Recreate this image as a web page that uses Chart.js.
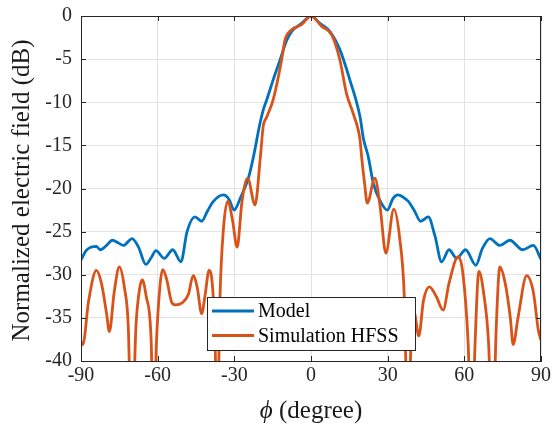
<!DOCTYPE html>
<html>
<head>
<meta charset="utf-8">
<script src="https://cdn.jsdelivr.net/npm/chart.js@4.4.1/dist/chart.umd.min.js"></script>
<style>
  html, body { margin: 0; padding: 0; background: #ffffff; }
  canvas { display: block; }
</style>
</head>
<body>
<canvas id="pattern-chart" width="552" height="425"></canvas>
<script>
// values (phi in degrees, field in dB)
const PHI_MODEL = [-90, -88, -86, -84, -82.5, -80, -77.7, -75.5, -73.4, -70, -67.5, -64.6, -62.5, -60.7, -57.4, -54.1,
  -50.9, -48.5, -45.4, -42.8, -40.5, -38.2, -34.3, -32, -30.1, -27.5, -24.5, -22.5, -20, -18.7, -17.3, -14.8, -12,
  -9.5, -7.6, -3.7, 0, 3.5, 7.4, 11.3, 15.2, 19.2, 20.5, 22.4, 24.4, 27, 29.9, 32, 34.1, 36, 38.1, 40.5, 42.9, 45.9,
  48.5, 51.1, 54, 57, 60.5, 64.5, 67, 70, 73.9, 77.8, 82.8, 87, 90];
const DB_MODEL = [-28.3, -27.2, -26.8, -26.7, -27.1, -26.6, -26.0, -26.3, -26.6, -25.8, -26.8, -28.8, -28.0, -27.2, -28.1, -27.1,
  -28.5, -25.0, -23.3, -23.8, -22.6, -21.5, -20.75, -21.3, -22.5, -21.0, -18.8, -16.3, -12.5, -10.9, -9.7, -7.4, -5.0,
  -2.8, -1.8, -0.85, 0, -0.85, -1.8, -3.9, -7.4, -11.7, -14.2, -16.3, -19.4, -21.4, -22.5, -21.2, -20.75, -21.0, -21.5, -22.6, -23.8, -23.3,
  -25.5, -28.5, -27.1, -28.1, -27.1, -28.9, -27.0, -25.8, -26.6, -26.0, -27.1, -26.6, -28.2];

const PHI_HFSS = [-90, -89.3, -87, -84, -82, -80, -78.9, -77, -75, -73, -71.5, -70.2, -68.5, -67, -66, -64.5, -62.5, -61.7,
  -60.5, -59, -58, -56.5, -54.5, -53, -50.6, -48, -46.1, -44.5, -42.8, -41.5, -39.9, -38.5, -37.5, -36.8, -35.6, -34.3,
  -32.6, -30.8, -28.9, -27, -24.8, -21.9, -19.8, -18.7, -17.3, -14.8, -11.5, -10.2, -7.6, -3.7, 0, 4.2, 8.1, 11.3, 13.9,
  16.5, 19.2, 19.8, 21, 22, 25, 27, 29.3, 32.4, 34.8, 36.5, 38, 39.3, 40.3, 42.2, 44, 46.3, 49, 51.7, 54, 57.6, 59.5,
  61.5, 62.9, 64.2, 65.7, 67.5, 69.5, 71, 72.5, 73.9, 76, 78, 79.1, 81, 84.4, 87, 89, 90];
const DB_HFSS = [-37.8, -38.1, -33, -29.5, -31, -34.5, -36.6, -32, -29.1, -31.5, -36, -50, -36, -31.5, -30.6, -32.5, -38, -50,
  -38, -31, -29.4, -30.5, -33.2, -33.5, -33.3, -32.3, -30.1, -31.5, -34.5, -32.5, -29.5, -31.5, -38, -50, -32.5, -24.8,
  -21.5, -23.5, -26.8, -21.5, -18.8, -21.9, -16.3, -12.8, -11.7, -9.7, -5.1, -2.8, -1.6, -1.0, 0, -1.2, -2.2, -5.1, -9.0,
  -11.3, -14.4, -16.3, -19.5, -21.7, -18.8, -22, -27.5, -22.4, -26, -32.5, -50, -36, -34.3, -37.1, -33, -31.4, -32.5, -34.1, -31, -27.9, -30,
  -38, -50, -38, -29.6, -32, -38, -50, -36, -29.1, -31, -35, -38.1, -35, -30.1, -32, -36.5, -37.6];

const X_TICKS = [-90, -60, -30, 0, 30, 60, 90];
const Y_TICKS = [0, -5, -10, -15, -20, -25, -30, -35, -40];
const SERIES_NAMES = ['Model', 'Simulation HFSS'];
const SERIES_COLORS = ['#0072BD', '#D95319'];

const SERIF = '"Liberation Serif", "DejaVu Serif", serif';
const AXIS_COLOR = '#262626';

function toPoints(xs, ys) {
  return xs.map((x, i) => ({ x, y: ys[i] }));
}

const framePlugin = {
  id: 'matlabFrame',
  afterDraw(chart) {
    const { ctx, chartArea: a, scales: { x, y } } = chart;
    ctx.save();

    // box around the axes
    ctx.strokeStyle = AXIS_COLOR;
    ctx.lineWidth = 1;
    ctx.strokeRect(a.left + 0.5, a.top + 0.5, a.right - a.left - 1, a.bottom - a.top);

    // inward ticks on all four sides
    ctx.beginPath();
    X_TICKS.forEach((v) => {
      const px = Math.round(x.getPixelForValue(v)) + 0.5;
      ctx.moveTo(px, a.bottom); ctx.lineTo(px, a.bottom - 5);
      ctx.moveTo(px, a.top); ctx.lineTo(px, a.top + 5);
    });
    Y_TICKS.forEach((v) => {
      const py = Math.round(y.getPixelForValue(v)) + 0.5;
      ctx.moveTo(a.left, py); ctx.lineTo(a.left + 5, py);
      ctx.moveTo(a.right, py); ctx.lineTo(a.right - 5, py);
    });
    ctx.stroke();

    // legend box
    const lx = 207, ly = 297, lw = 208, lh = 53;
    ctx.fillStyle = '#ffffff';
    ctx.fillRect(lx, ly, lw, lh);
    ctx.strokeStyle = '#262626';
    ctx.strokeRect(lx + 0.5, ly + 0.5, lw, lh);
    ctx.font = `20px ${SERIF}`;
    ctx.textBaseline = 'middle';
    ctx.textAlign = 'left';
    SERIES_NAMES.forEach((name, i) => {
      const cy = ly + 14 + i * 24.5;
      ctx.strokeStyle = SERIES_COLORS[i];
      ctx.lineWidth = 3;
      ctx.beginPath();
      ctx.moveTo(lx + 5, cy); ctx.lineTo(lx + 47, cy);
      ctx.stroke();
      ctx.fillStyle = '#000000';
      ctx.fillText(name, lx + 51, cy + 1);
    });

    // x axis title: italic phi + "(degree)"
    ctx.fillStyle = '#1a1a1a';
    ctx.textBaseline = 'alphabetic';
    const phi = 'ϕ';
    const rest = ' (degree)';
    ctx.font = `italic 25px ${SERIF}`;
    const w1 = ctx.measureText(phi).width;
    ctx.font = `25px ${SERIF}`;
    const w2 = ctx.measureText(rest).width;
    const cx = (a.left + a.right) / 2;
    const sx = cx - (w1 + w2) / 2;
    ctx.font = `italic 25px ${SERIF}`;
    ctx.fillText(phi, sx, 418);
    ctx.font = `25px ${SERIF}`;
    ctx.fillText(rest, sx + w1, 418);

    // y axis title
    ctx.save();
    ctx.translate(29, (a.top + a.bottom) / 2 + 2);
    ctx.rotate(-Math.PI / 2);
    ctx.textAlign = 'center';
    ctx.font = `25px ${SERIF}`;
    ctx.fillText('Normalized electric field (dB)', 0, 0);
    ctx.restore();

    ctx.restore();
  },
};

const canvas = document.getElementById('pattern-chart');
new Chart(canvas.getContext('2d'), {
  type: 'line',
  data: {
    datasets: [
      {
        label: SERIES_NAMES[0],
        data: toPoints(PHI_MODEL, DB_MODEL),
        borderColor: SERIES_COLORS[0],
        borderWidth: 2.8,
        pointRadius: 0,
        cubicInterpolationMode: 'monotone',
        clip: 0,
        order: 2,
      },
      {
        label: SERIES_NAMES[1],
        data: toPoints(PHI_HFSS, DB_HFSS),
        borderColor: SERIES_COLORS[1],
        borderWidth: 2.8,
        pointRadius: 0,
        cubicInterpolationMode: 'monotone',
        clip: 0,
        order: 1,
      },
    ],
  },
  options: {
    responsive: false,
    animation: false,
    layout: { padding: { top: 16, right: 11, left: 0, bottom: 0 } },
    plugins: {
      legend: { display: false },
      tooltip: { enabled: false },
    },
    scales: {
      x: {
        type: 'linear',
        min: -90,
        max: 90,
        afterBuildTicks: (scale) => { scale.ticks = X_TICKS.map((value) => ({ value })); },
        afterFit: (scale) => {
          scale.height = 64;
          scale.paddingLeft = 0;
          scale.paddingRight = 0;
        },
        grid: { color: '#e3e3e3', drawTicks: false },
        border: { color: AXIS_COLOR },
        ticks: { color: AXIS_COLOR, padding: 3, font: { family: SERIF, size: 20 }, maxRotation: 0 },
      },
      y: {
        type: 'linear',
        min: -40,
        max: 0,
        afterBuildTicks: (scale) => { scale.ticks = Y_TICKS.map((value) => ({ value })); },
        afterFit: (scale) => {
          scale.width = 81;
          scale.paddingTop = 0;
          scale.paddingBottom = 0;
        },
        grid: { color: '#e3e3e3', drawTicks: false },
        border: { color: AXIS_COLOR },
        ticks: { color: AXIS_COLOR, padding: 9, font: { family: SERIF, size: 20 } },
      },
    },
  },
  plugins: [framePlugin],
});
</script>
</body>
</html>
